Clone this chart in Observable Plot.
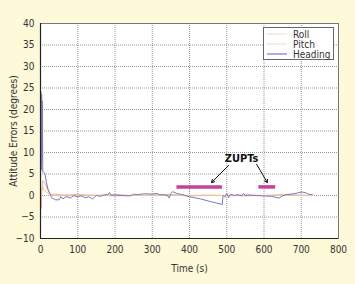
<!DOCTYPE html>
<html>
<head>
<meta charset="utf-8">
<script src="https://cdn.jsdelivr.net/npm/d3@7"></script>
<script src="https://cdn.jsdelivr.net/npm/@observablehq/plot@0.6"></script>
<style>
  html, body { margin: 0; padding: 0; background: #fdf9d9; }
  #wrap { position: relative; width: 355px; height: 284px; overflow: hidden; }
  #legend { position: absolute; left: 263px; top: 27px; }
  svg { font-stretch: condensed; }
</style>
</head>
<body>
<div id="wrap"></div>
<script>
// ---- data ----
const seriesNames = ["Roll", "Pitch", "Heading"];
const seriesColors = ["#f2a9a0", "#ecc98a", "#7a78c8"];

const headingT = [0, 1, 2, 3, 4, 5, 6, 8, 12, 16, 20, 25, 30, 40, 50, 55, 60, 70, 80, 90, 100, 110, 120, 130, 140, 150, 160, 170, 180, 185, 190, 200, 220, 240, 250, 260, 280, 300, 310, 320, 340, 345, 350, 355, 365, 380, 400, 430, 460, 488, 490, 495, 500, 505, 510, 520, 530, 540, 545, 550, 560, 580, 600, 620, 640, 650, 660, 680, 690, 700, 710, 720, 730];
const headingV = [0, 24, 6, 23.5, 8, 22, 5.5, 5.5, 5, 3, 1.5, 0.5, -0.5, -1, -1, -0.3, -0.8, -0.2, -0.6, 0, -0.3, -0.1, -0.5, -0.3, -0.8, 0, -0.2, 0.1, 0.2, 0.7, 0, 0.1, 0, -0.1, 0.3, 0.2, 0.4, 0.3, 0.5, 0.2, 0.1, -0.6, 0.5, 0.9, 0.5, 0.2, -0.3, -0.8, -1.5, -2.1, 0, -0.4, 0.5, -0.5, 0.3, 0, 0.2, -0.1, 0.5, 0, 0.1, 0, -0.1, -0.2, -0.6, -0.1, 0.2, 0.4, 0.6, 0.8, 0.7, 0.3, 0.2];

const rollT = [0, 2, 4, 6, 9, 13, 18, 24, 30, 40, 60, 100, 150, 200, 250, 300, 350, 400, 450, 500, 550, 600, 650, 700, 730];
const rollV = [0, -3, 1.5, 3.5, 3.2, 2.8, 1.5, 0.6, 0.2, 0.3, 0.1, 0.2, 0, 0.2, 0, 0.1, 0.2, 0, 0.1, 0, 0.1, 0, 0.2, 0.1, 0];

const pitchT = [0, 2, 5, 8, 12, 20, 30, 50, 100, 150, 200, 250, 300, 350, 400, 450, 500, 550, 600, 650, 700, 730];
const pitchV = [0, 1, 2.2, 1.5, 1, 0.5, 0.1, -0.1, 0, 0.1, -0.1, 0, 0, 0.1, -0.1, 0, 0, -0.1, 0, 0.1, 0, 0];

const zuptStart = [365, 585];
const zuptEnd = [487, 630];
const zuptLevel = [2, 2];
const zuptLabel = "ZUPTs";
const zuptLabelX = 540, zuptLabelY = 8.6;
const arrowFromX = [505, 580], arrowFromY = [7, 7.3];
const arrowToX = [459, 609], arrowToY = [3, 3];

const xTicks = [0, 100, 200, 300, 400, 500, 600, 700, 800];
const yTicks = [-10, -5, 0, 5, 10, 15, 20, 25, 30, 35, 40];

// ---- build tables ----
const toRows = (T, V, s) => T.map((t, i) => ({t, v: V[i], s}));
const rows = [
  ...toRows(rollT, rollV, "Roll"),
  ...toRows(pitchT, pitchV, "Pitch"),
  ...toRows(headingT, headingV, "Heading")
];
const zupts = zuptStart.map((a, i) => ({x1: a, x2: zuptEnd[i], y: zuptLevel[i]}));
const arrows = arrowFromX.map((x, i) => ({x1: x, y1: arrowFromY[i], x2: arrowToX[i], y2: arrowToY[i]}));

const font = "'DejaVu Sans Condensed', 'DejaVu Sans', sans-serif";

const chart = Plot.plot({
  width: 355,
  height: 284,
  marginLeft: 40,
  marginRight: 17,
  marginTop: 23,
  marginBottom: 46,
  style: {background: "transparent", fontFamily: font, fontSize: "10px", color: "#333"},
  x: {domain: [0, 800], ticks: xTicks, tickSize: 0, tickPadding: 7, label: "Time (s)", labelAnchor: "center", labelArrow: "none", labelOffset: 33},
  y: {domain: [-10, 40], ticks: yTicks, tickSize: 0, tickPadding: 6, label: "Attitude Errors (degrees)", labelAnchor: "center", labelArrow: "none", labelOffset: 31},
  color: {domain: seriesNames, range: seriesColors},
  marks: [
    Plot.frame({fill: "white"}),
    Plot.gridX(xTicks, {stroke: "#444", strokeOpacity: 0.55, strokeDasharray: "1,1"}),
    Plot.gridY(yTicks, {stroke: "#444", strokeOpacity: 0.55, strokeDasharray: "1,1"}),
    Plot.line(rows, {x: "t", y: "v", z: "s", stroke: "s", strokeWidth: 1}),
    Plot.link(zupts, {x1: "x1", x2: "x2", y1: "y", y2: "y", stroke: "#c4429e", strokeWidth: 3.5}),
    Plot.arrow(arrows, {x1: "x1", y1: "y1", x2: "x2", y2: "y2", stroke: "#111", strokeWidth: 1, headLength: 5}),
    Plot.text([zuptLabel], {x: zuptLabelX, y: zuptLabelY, text: d => d, fontWeight: "bold", fontSize: 11, fill: "#111"}),
    Plot.frame({stroke: "#777"}),
    Plot.ruleX([0], {stroke: "#222", strokeWidth: 1.2}),
    Plot.ruleY([-10], {stroke: "#222", strokeWidth: 1.2})
  ]
});
document.getElementById("wrap").appendChild(chart);

// legend box
const lg = d3.select("#wrap").append("svg").attr("id", "legend").attr("width", 72).attr("height", 34)
  .style("font-family", font).style("font-size", "10px");
lg.append("rect").attr("x", 0.5).attr("y", 0.5).attr("width", 70).attr("height", 32)
  .attr("fill", "white").attr("stroke", "#666");
seriesNames.forEach((n, i) => {
  const y = 7 + i * 10;
  lg.append("line").attr("x1", 4).attr("x2", 24).attr("y1", y).attr("y2", y)
    .attr("stroke", i === 2 ? seriesColors[i] : (i === 0 ? "#f4e0dc" : "#f0e4c8")).attr("stroke-width", 1.2);
  lg.append("text").attr("x", 30).attr("y", y + 3.5).attr("fill", "#333").text(n);
});
</script>
</body>
</html>
